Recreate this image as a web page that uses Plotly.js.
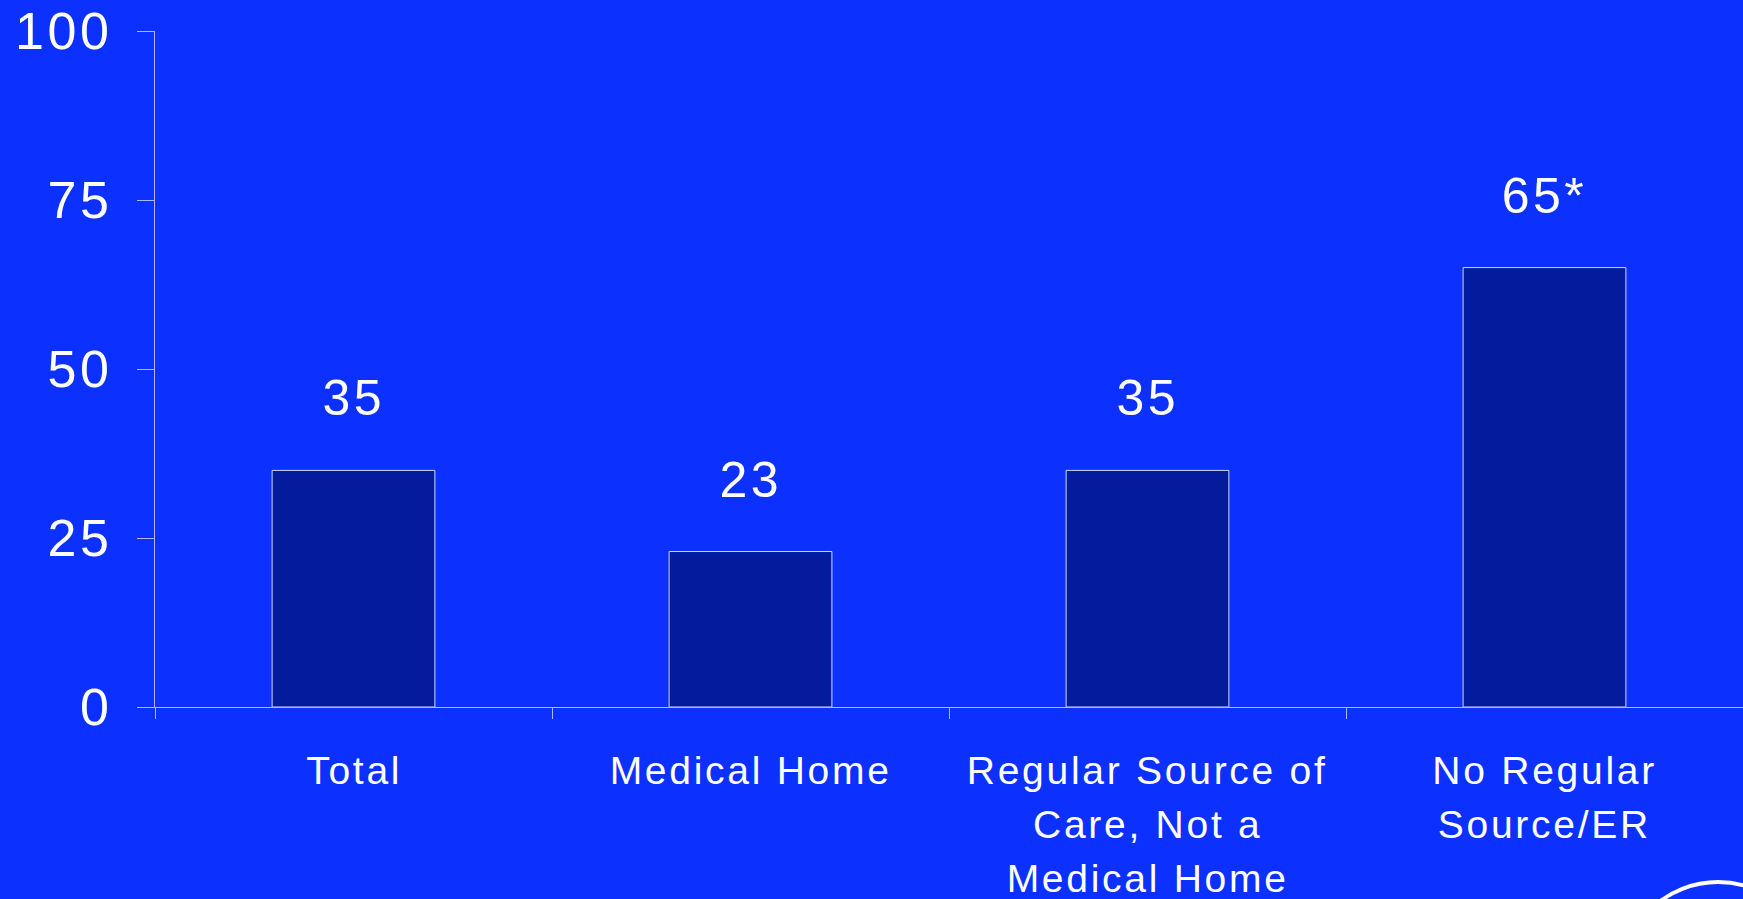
<!DOCTYPE html>
<html>
<head>
<meta charset="utf-8">
<script src="https://cdn.plot.ly/plotly-3.0.1.min.js"></script>
<style>
  html, body { margin: 0; padding: 0; background: #0C31FF; }
  #chart { width: 1743px; height: 899px; }
  .main-svg text { letter-spacing: 0.07em; }
</style>
</head>
<body>
<div id="chart"></div>
<script>
// Data
const categories = ["Total", "Medical Home", "Regular Source of<br>Care, Not a<br>Medical Home", "No Regular<br>Source/ER"];
const values = [35, 23, 35, 65];
const significance = ["", "", "", "*"];
const yTickValues = [0, 25, 50, 75, 100];

const bgColor = "#0C31FF";
const barColor = "#031B9C";
const axisColor = "#AEB8FF";
const fontFamily = "'Liberation Sans', Arial, sans-serif";

const trace = {
  type: "bar",
  x: categories,
  y: values,
  marker: { color: barColor, line: { color: "#D0D6FF", width: 1 } },
  hoverinfo: "skip"
};

const annotations = [];
// value labels above bars
categories.forEach((c, i) => {
  annotations.push({
    x: c, y: values[i], xref: "x", yref: "y",
    text: String(values[i]) + significance[i],
    showarrow: false, yanchor: "middle", xanchor: "center",
    yshift: 72,
    font: { family: fontFamily, size: 50, color: "#FFFFFF" }
  });
});
// category labels, one annotation per line
categories.forEach((c) => {
  c.split("<br>").forEach((line, j) => {
    annotations.push({
      x: c, y: 0, xref: "x", yref: "paper",
      text: line, showarrow: false,
      xanchor: "center", yanchor: "middle",
      yshift: -63 - 54 * j,
      font: { family: fontFamily, size: 39, color: "#FFFFFF" }
    });
  });
});

const layout = {
  width: 1743, height: 899,
  paper_bgcolor: bgColor, plot_bgcolor: bgColor,
  margin: { l: 155, r: 0, t: 31, b: 192, pad: 0 },
  showlegend: false,
  bargap: 0.59,
  font: { family: fontFamily, color: "#FFFFFF" },
  xaxis: {
    type: "category",
    showticklabels: false,
    ticks: "outside", tickson: "boundaries", ticklen: 11, tickcolor: axisColor, tickwidth: 1,
    showline: true, linecolor: axisColor, linewidth: 1,
    showgrid: false, zeroline: false,
    fixedrange: true
  },
  yaxis: {
    range: [0, 100],
    tickvals: yTickValues,
    ticktext: yTickValues.map(String),
    ticks: "outside", ticklen: 17, tickcolor: axisColor, tickwidth: 1,
    ticklabelstandoff: 14,
    showline: true, linecolor: axisColor, linewidth: 1,
    showgrid: false, zeroline: false,
    tickfont: { family: fontFamily, size: 52, color: "#FFFFFF" },
    fixedrange: true
  },
  annotations: annotations,
  shapes: [{
    type: "circle", xref: "paper", yref: "paper",
    x0: 0.9232, x1: 1.0453, y0: -0.5459, y1: -0.2589,
    line: { color: "#FFFFFF", width: 4 }, fillcolor: "rgba(0,0,0,0)"
  }]
};

Plotly.newPlot("chart", [trace], layout, { displayModeBar: false, staticPlot: true });
</script>
</body>
</html>
